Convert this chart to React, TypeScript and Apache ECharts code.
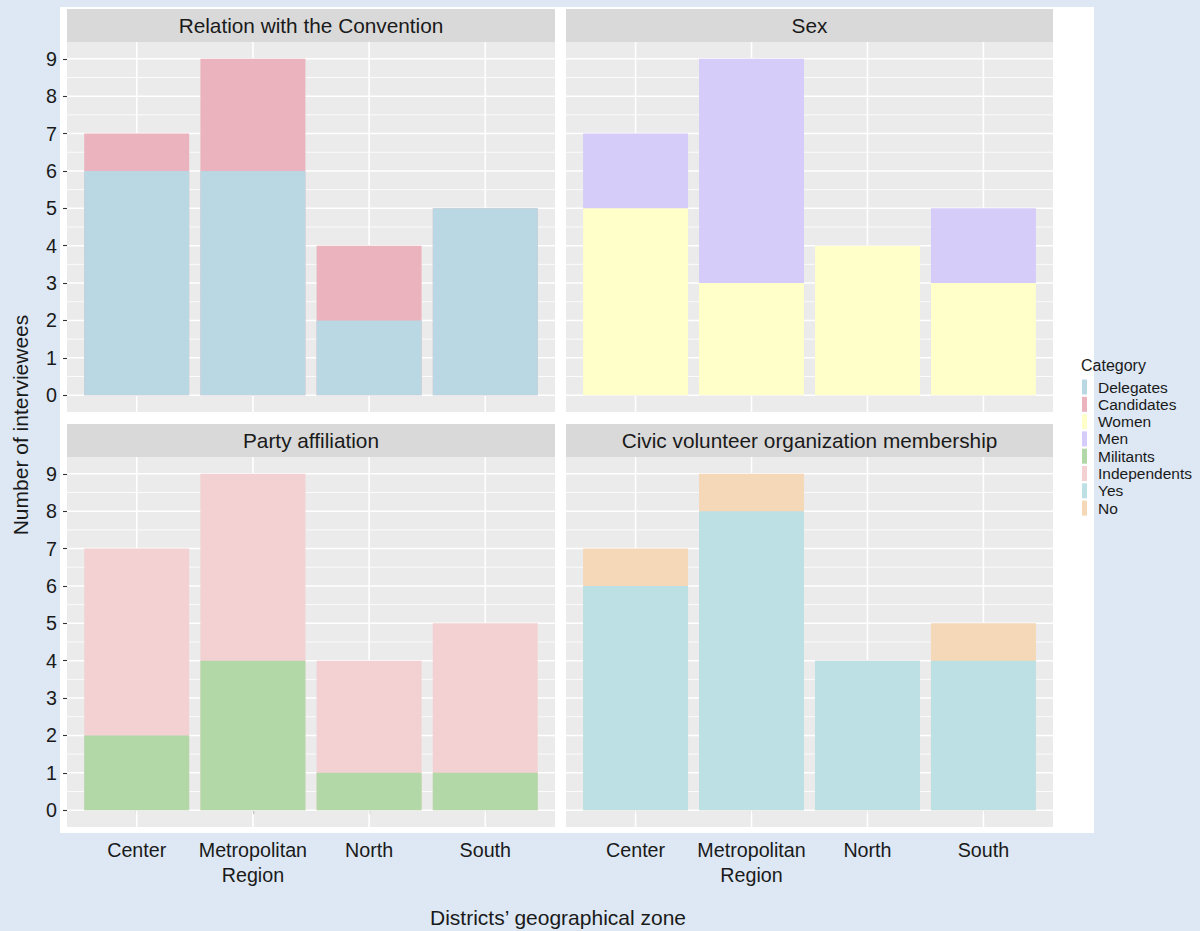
import React, { useEffect, useRef } from 'react';
import * as echarts from 'echarts';

// ---- data ----
const districts = ['Center', 'Metropolitan\nRegion', 'North', 'South'];
const districtPos = [1, 2, 3, 4];
const yTicks = [0, 1, 2, 3, 4, 5, 6, 7, 8, 9];
const yMinor = [0.5, 1.5, 2.5, 3.5, 4.5, 5.5, 6.5, 7.5, 8.5];

const panelTitles = [
  'Relation with the Convention',
  'Sex',
  'Party affiliation',
  'Civic volunteer organization membership',
];

const delegates = [6, 6, 2, 5];
const candidates = [1, 3, 2, 0];
const women = [5, 3, 4, 3];
const men = [2, 6, 0, 2];
const militants = [2, 4, 1, 1];
const independents = [5, 5, 3, 4];
const yes = [6, 8, 4, 4];
const no = [1, 1, 0, 1];

const legendNames = ['Delegates', 'Candidates', 'Women', 'Men', 'Militants', 'Independents', 'Yes', 'No'];
const colorMap: Record<string, string> = {
  Delegates: '#b9d8e3',
  Candidates: '#ebb3bd',
  Women: '#ffffca',
  Men: '#d6ccf9',
  Militants: '#b2d8a8',
  Independents: '#f3d1d2',
  Yes: '#bde0e5',
  No: '#f5d8b7',
};

const panels = [
  { lowerName: 'Delegates', lower: delegates, upperName: 'Candidates', upper: candidates },
  { lowerName: 'Women', lower: women, upperName: 'Men', upper: men },
  { lowerName: 'Militants', lower: militants, upperName: 'Independents', upper: independents },
  { lowerName: 'Yes', lower: yes, upperName: 'No', upper: no },
];

const FONT = '"Liberation Sans", Arial, Helvetica, sans-serif';

export default function App() {
  const ref = useRef<HTMLDivElement>(null);

  useEffect(() => {
    if (!ref.current) return;
    const chart = echarts.init(ref.current, null, { renderer: 'svg' });

    const gridRects = [
      { left: 67, top: 42, width: 488, height: 370 },
      { left: 566, top: 42, width: 487, height: 370 },
      { left: 67, top: 457, width: 488, height: 370 },
      { left: 566, top: 457, width: 487, height: 370 },
    ];

    const grids = gridRects.map((g) => ({
      ...g,
      show: true,
      backgroundColor: '#ebebeb',
      borderWidth: 0,
      containLabel: false,
    }));

    const xAxes = gridRects.map((_, i) => {
      const bottomRow = i >= 2;
      return {
        type: 'value',
        gridIndex: i,
        min: 0.4,
        max: 4.6,
        interval: 1,
        axisLine: { show: false },
        splitLine: { show: false },
        axisTick: {
          show: bottomRow,
          length: 4,
          lineStyle: { color: '#333333', width: 1.1 },
          customValues: districtPos,
        },
        axisLabel: {
          show: bottomRow,
          customValues: districtPos,
          margin: 10,
          color: '#1a1a1a',
          fontSize: 19.7,
          fontFamily: FONT,
          lineHeight: 25,
          formatter: (v: number) => {
            const idx = districtPos.indexOf(Math.round(v * 100) / 100);
            return idx >= 0 ? districts[idx] : '';
          },
        },
      };
    });

    const yAxes = gridRects.map((_, i) => {
      const leftCol = i % 2 === 0;
      return {
        type: 'value',
        gridIndex: i,
        min: -0.45,
        max: 9.45,
        interval: 1,
        axisLine: { show: false },
        splitLine: { show: false },
        axisTick: {
          show: leftCol,
          length: 4,
          lineStyle: { color: '#333333', width: 1.1 },
          customValues: yTicks,
        },
        axisLabel: {
          show: leftCol,
          customValues: yTicks,
          margin: 10,
          color: '#1a1a1a',
          fontSize: 19.7,
          fontFamily: FONT,
          formatter: (v: number) => (Number.isInteger(v) ? String(v) : ''),
        },
      };
    });

    // gridline rows: [orientation (0 horizontal / 1 vertical), value, major(1)/minor(0)]
    const gridlineData: number[][] = [
      ...yTicks.map((v) => [0, v, 1]),
      ...yMinor.map((v) => [0, v, 0]),
      ...districtPos.map((v) => [1, v, 1]),
    ];

    const series: any[] = [];
    panels.forEach((p, i) => {
      series.push({
        type: 'custom',
        xAxisIndex: i,
        yAxisIndex: i,
        silent: true,
        z: 1,
        clip: false,
        data: gridlineData,
        renderItem: (params: any, api: any) => {
          const cs = params.coordSys;
          const o = api.value(0);
          const v = api.value(1);
          const major = api.value(2) === 1;
          const lw = major ? 1.6 : 0.8;
          if (o === 0) {
            const y = api.coord([1, v])[1];
            return {
              type: 'line',
              shape: { x1: cs.x, y1: y, x2: cs.x + cs.width, y2: y },
              style: { stroke: '#ffffff', lineWidth: lw },
            };
          }
          const x = api.coord([v, 0])[0];
          return {
            type: 'line',
            shape: { x1: x, y1: cs.y, x2: x, y2: cs.y + cs.height },
            style: { stroke: '#ffffff', lineWidth: lw },
          };
        },
      });
      // upper category drawn as the total height, behind the lower category
      series.push({
        type: 'bar',
        name: p.upperName,
        xAxisIndex: i,
        yAxisIndex: i,
        z: 2,
        barWidth: 105,
        barGap: '-100%',
        itemStyle: { color: colorMap[p.upperName] },
        data: districtPos.map((x, k) => [x, p.lower[k] + p.upper[k]]),
      });
      series.push({
        type: 'bar',
        name: p.lowerName,
        xAxisIndex: i,
        yAxisIndex: i,
        z: 3,
        barWidth: 105,
        barGap: '-100%',
        itemStyle: { color: colorMap[p.lowerName] },
        data: districtPos.map((x, k) => [x, p.lower[k]]),
      });
    });

    const stripGraphics: any[] = [];
    gridRects.forEach((g, i) => {
      stripGraphics.push({
        type: 'rect',
        shape: { x: g.left, y: g.top - 33, width: g.width, height: 33 },
        style: { fill: '#d9d9d9' },
        silent: true,
      });
      stripGraphics.push({
        type: 'text',
        x: g.left + g.width / 2,
        y: g.top - 16.5,
        style: {
          text: panelTitles[i],
          fill: '#1a1a1a',
          font: `20.8px ${FONT}`,
          align: 'center',
          verticalAlign: 'middle',
        },
        silent: true,
      });
    });

    const option: any = {
      animation: false,
      backgroundColor: '#dde8f4',
      grid: grids,
      xAxis: xAxes,
      yAxis: yAxes,
      legend: {
        data: legendNames,
        orient: 'vertical',
        left: 1082,
        top: 379,
        padding: 0,
        itemWidth: 5,
        itemHeight: 15,
        itemGap: 1.3,
        icon: 'rect',
        selectedMode: false,
        textStyle: {
          fontSize: 15.5,
          lineHeight: 15,
          fontFamily: FONT,
          color: '#1a1a1a',
          padding: [0, 0, 0, 6],
        },
      },
      graphic: [
        {
          type: 'rect',
          z: -10,
          shape: { x: 60, y: 7, width: 1034, height: 826 },
          style: { fill: '#ffffff' },
          silent: true,
        },
        ...stripGraphics,
        {
          type: 'text',
          x: 20,
          y: 425,
          rotation: Math.PI / 2,
          style: {
            text: 'Number of interviewees',
            fill: '#1a1a1a',
            font: `21px ${FONT}`,
            align: 'center',
            verticalAlign: 'middle',
          },
          silent: true,
        },
        {
          type: 'text',
          x: 558,
          y: 917,
          style: {
            text: 'Districts\u2019 geographical zone',
            fill: '#1a1a1a',
            font: `21px ${FONT}`,
            align: 'center',
            verticalAlign: 'middle',
          },
          silent: true,
        },
        {
          type: 'text',
          x: 1081,
          y: 365,
          style: {
            text: 'Category',
            fill: '#1a1a1a',
            font: `16px ${FONT}`,
            align: 'left',
            verticalAlign: 'middle',
          },
          silent: true,
        },
      ],
      series,
    };

    chart.setOption(option);
    return () => chart.dispose();
  }, []);

  return (
    <div
      ref={ref}
      style={{ position: 'fixed', left: 0, top: 0, width: 1200, height: 931 }}
    />
  );
}
